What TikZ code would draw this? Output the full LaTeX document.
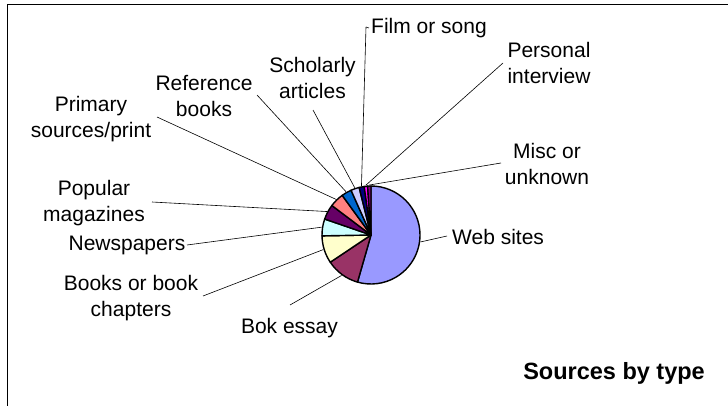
\documentclass[tikz,border=0pt]{standalone}
\usepackage{fontspec}
\setmainfont{Liberation Sans}

\definecolor{webc}{HTML}{9999FF}
\definecolor{bokc}{HTML}{993366}
\definecolor{booksc}{HTML}{FFFFCC}
\definecolor{newsc}{HTML}{CCFFFF}
\definecolor{popc}{HTML}{660066}
\definecolor{primc}{HTML}{FF8080}
\definecolor{refc}{HTML}{0066CC}
\definecolor{scholc}{HTML}{CCCCFF}
\definecolor{filmc}{HTML}{000080}
\definecolor{persc}{HTML}{FF00FF}
\definecolor{miscc}{HTML}{800080}

\begin{document}
\begin{tikzpicture}[
  x=1pt, y=-1pt,
  slice/.style={draw=black, line width=1.4pt, line join=round},
  lbl/.style={anchor=north, inner sep=0pt, align=center, font=\fontsize{21}{26}\selectfont},
  lead/.style={draw=black, line width=0.6pt}
]
\useasboundingbox (0,0) rectangle (728,406);
\draw[line width=0.9pt] (7,406) -- (7,4) -- (728,4);

% pie, clockwise from the top
\coordinate (pie) at (371,235);
\foreach \a/\b/\c in {-90/106/webc, 106/146.3/bokc, 146.3/179/booksc, 179/199/newsc,
    199/217/popc, 217/234/primc, 234/246/refc, 246/256/scholc, 256/262/filmc,
    262/266/persc, 266/270/miscc}
  \filldraw[slice, fill=\c] (pie) -- ++(\a:49) arc[start angle=\a, end angle=\b, radius=49] -- cycle;

\foreach \n/\m in {web/8, bok/126, books/163, news/189, pop/208, prim/225.5,
    ref/240, schol/251, film/259, pers/264, misc/268}
  \coordinate (\n-p) at ([shift={(\m:50)}]pie);

\node[lbl, anchor=north west] (film) at (371,18) {Film or song};
\node[lbl] (pers) at (549,42) {Personal\\interview};
\node[lbl] (misc) at (547,143) {Misc or\\unknown};
\node[lbl, anchor=north west] (web) at (452,229) {Web sites};
\node[lbl] (bok) at (289.5,318) {Bok essay};
\node[lbl] (books) at (131,275) {Books or book\\chapters};
\node[lbl] (news) at (127,236) {Newspapers};
\node[lbl] (pop) at (94,180) {Popular\\magazines};
\node[lbl] (prim) at (91,96) {Primary\\sources/print};
\node[lbl] (ref) at (204,75) {Reference\\books};
\node[lbl] (schol) at (312.5,57) {Scholarly\\articles};
\node[lbl, anchor=north east, font=\bfseries\fontsize{23.5}{28}\selectfont] (title) at (705,362) {Sources by type};

% leader lines
\coordinate (web-l) at (447,236);
\coordinate (bok-l) at (290,305);
\coordinate (books-l) at (203,296);
\coordinate (news-l) at (187,245);
\coordinate (pop-l) at (152,202);
\coordinate (prim-l) at (157,117);
\coordinate (ref-l) at (257,95);
\coordinate (schol-l) at (313,110);
\coordinate (film-l) at (366,27);
\coordinate (pers-l) at (503,63);
\coordinate (misc-l) at (501,163);
\foreach \n in {web,bok,books,news,pop,prim,ref,schol,film,pers,misc}
  \draw[lead] (\n-l) -- (\n-p);
\draw[lead] ([xshift=-2pt]film.west) -- (film-l);
\end{tikzpicture}
\end{document}
